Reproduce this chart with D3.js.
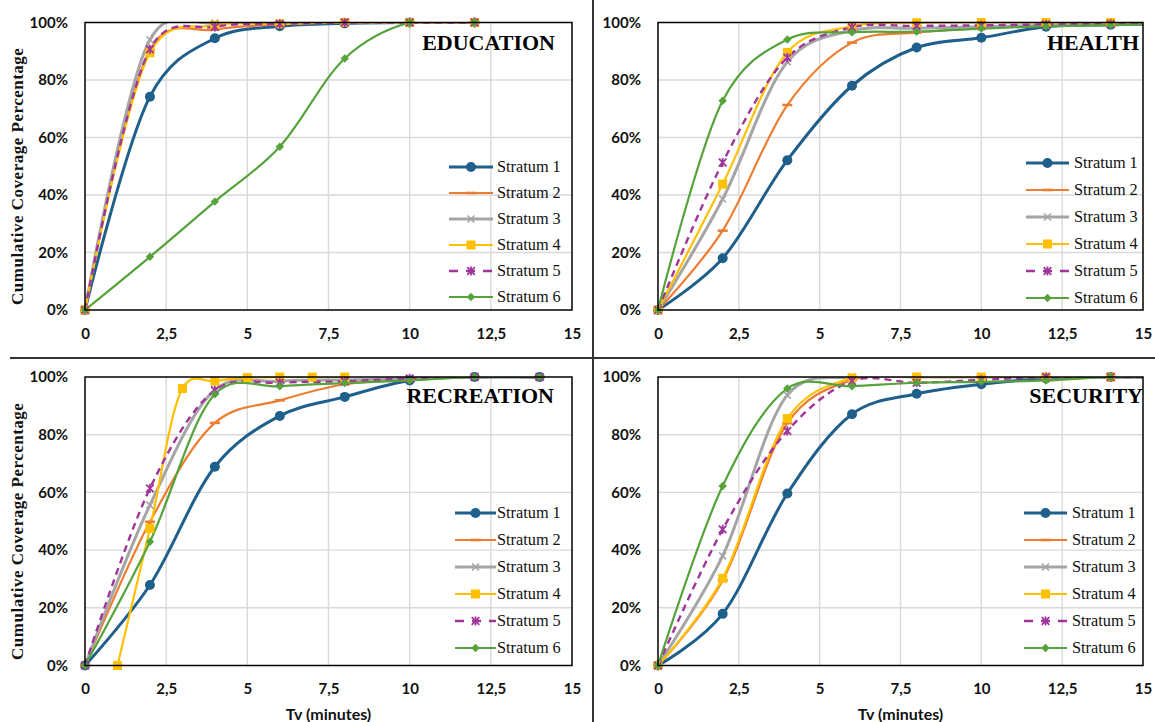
<!DOCTYPE html>
<html><head><meta charset="utf-8">
<script src="https://cdn.jsdelivr.net/npm/d3@7/dist/d3.min.js"></script>
<style>body{margin:0;background:#fff}</style>
</head><body>
<svg id="c" width="1155" height="722" xmlns="http://www.w3.org/2000/svg"></svg>
<script>
// ---------------- DATA ----------------
const strata = ["Stratum 1","Stratum 2","Stratum 3","Stratum 4","Stratum 5","Stratum 6"];
const xTicks = [0, 2.5, 5, 7.5, 10, 12.5, 15];
const yTicks = [0, 20, 40, 60, 80, 100];
const panelTitles = ["EDUCATION","HEALTH","RECREATION","SECURITY"];
const xTitle = "Tv (minutes)";
const yTitle = "Cumulative Coverage Percentage";

// Education (Tv minutes)
const eduX  = [0, 2, 4, 6, 8, 10, 12];
const eduS1 = [0, 74.2, 94.5, 98.7, 99.7, 100, 100];
const eduS2 = [0, 90.5, 97.5, 99.3, 100, 100, 100];
const eduS3 = [0, 94.0, 99.8, 99.8, 100, 100, 100];
const eduS4 = [0, 89.5, 99.0, 99.5, 100, 100, 100];
const eduS5 = [0, 90.7, 98.5, 99.5, 100, 100, 100];
const eduS6 = [0, 18.5, 37.7, 56.8, 87.5, 100, 100];

// Health
const heaX  = [0, 2, 4, 6, 8, 10, 12, 14, 16];
const heaS1 = [0, 18.0, 52.1, 78.0, 91.3, 94.7, 98.5, 99.2, 99.6];
const heaS2 = [0, 27.6, 71.3, 93.0, 96.5, 98.0, 99.0, 99.5, 99.7];
const heaS3 = [0, 38.6, 86.3, 97.2, 98.0, 98.5, 99.0, 99.5, 99.7];
const heaS4 = [0, 43.8, 89.6, 98.7, 99.9, 100, 100, 100, 100];
const heaS5 = [0, 51.3, 87.8, 98.3, 98.8, 99.0, 99.3, 99.5, 99.7];
const heaS6 = [0, 72.8, 94.1, 96.6, 96.8, 97.9, 98.7, 99.1, 99.6];

// Recreation
const recX  = [0, 2, 4, 6, 8, 10, 12, 14];
const recS1 = [0, 27.9, 68.9, 86.5, 93.1, 98.8, 100, 100];
const recS2 = [0, 49.8, 84.1, 91.9, 97.5, 99.0, 100, 100];
const recS3 = [0, 55.6, 95.5, 98.5, 99.0, 99.5, 100, 100];
const recX4 = [1, 2, 3, 4, 5, 6, 7, 8];
const recS4 = [0, 47.5, 96.0, 98.6, 99.8, 100, 100, 100];
const recS5 = [0, 61.4, 95.4, 98.0, 98.5, 99.5, 100, 100];
const recS6 = [0, 42.9, 94.0, 96.8, 97.9, 98.8, 100, 100];

// Security
const secX  = [0, 2, 4, 6, 8, 10, 12, 14, 16];
const secS1 = [0, 17.9, 59.6, 87.1, 94.2, 97.5, 99.5, 100, 100];
const secS2 = [0, 29.5, 84.0, 99.0, 100, 100, 100, 100, 100];
const secS3 = [0, 38.0, 93.7, 100, 100, 100, 100, 100, 100];
const secS4 = [0, 30.2, 85.6, 99.7, 100, 100, 100, 100, 100];
const secS5 = [0, 47.2, 81.3, 98.6, 98.0, 99.0, 100, 100, 100];
const secS6 = [0, 62.2, 96.0, 96.8, 98.0, 98.3, 98.8, 100, 100];

// ---------------- STYLE ----------------
const colors  = ["#1F5F8B","#ED7D31","#A5A5A5","#FFC000","#A0359B","#56A33C"];
const widths  = [3, 2.2, 3, 2.2, 2.4, 2.2];
const dashes  = [null, null, null, null, "7,5", null];
const markers = ["circle","dash","x","square","star","diamond"];

const panelData = [
  { xs:[eduX,eduX,eduX,eduX,eduX,eduX], ys:[eduS1,eduS2,eduS3,eduS4,eduS5,eduS6] },
  { xs:[heaX,heaX,heaX,heaX,heaX,heaX], ys:[heaS1,heaS2,heaS3,heaS4,heaS5,heaS6] },
  { xs:[recX,recX,recX,recX4,recX,recX], ys:[recS1,recS2,recS3,recS4,recS5,recS6] },
  { xs:[secX,secX,secX,secX,secX,secX], ys:[secS1,secS2,secS3,secS4,secS5,secS6] }
];

// layout per panel
const layout = [
  { l:85,  r:572,  t:22.5, b:310, titleX:555,  titleY:50,  legLine:[449,493], legText:497,  legY:167, legDy:26,   yTitle:true,  xTitle:false },
  { l:658, r:1143, t:22.5, b:310, titleX:1139, titleY:50,  legLine:[1026,1069], legText:1074, legY:163, legDy:27,   yTitle:false, xTitle:false },
  { l:85,  r:572,  t:377,  b:665.5, titleX:554, titleY:403, legLine:[455,496], legText:497, legY:513, legDy:27,   yTitle:true,  xTitle:true },
  { l:658, r:1143, t:377,  b:665.5, titleX:1143, titleY:403, legLine:[1024,1067], legText:1072, legY:513, legDy:27, yTitle:false, xTitle:true }
];

const SERIF = "'Liberation Serif', 'Times New Roman', Times, serif";
const SANS = "Lato, 'Open Sans', sans-serif";

const svg = d3.select("#c");
svg.append("rect").attr("width",1155).attr("height",722).attr("fill","#fff");

function drawMarker(g, type, cx, cy, color) {
  if (type === "circle") {
    g.append("circle").attr("cx",cx).attr("cy",cy).attr("r",5).attr("fill",color);
  } else if (type === "dash") {
    g.append("rect").attr("x",cx-5).attr("y",cy-1.3).attr("width",10).attr("height",2.6).attr("fill",color);
  } else if (type === "x") {
    const s = 3.5;
    g.append("path").attr("d",`M${cx-s},${cy-s}L${cx+s},${cy+s}M${cx-s},${cy+s}L${cx+s},${cy-s}`)
      .attr("stroke",color).attr("stroke-width",1.6).attr("fill","none");
  } else if (type === "square") {
    g.append("rect").attr("x",cx-4.5).attr("y",cy-4.5).attr("width",9).attr("height",9).attr("fill",color);
  } else if (type === "star") {
    const s = 3.8;
    g.append("path").attr("d",`M${cx-s},${cy-s}L${cx+s},${cy+s}M${cx-s},${cy+s}L${cx+s},${cy-s}M${cx},${cy-s-0.8}L${cx},${cy+s+0.8}`)
      .attr("stroke",color).attr("stroke-width",1.8).attr("fill","none");
  } else if (type === "diamond") {
    const s = 4.2;
    g.append("path").attr("d",`M${cx},${cy-s}L${cx+s},${cy}L${cx},${cy+s}L${cx-s},${cy}Z`).attr("fill",color);
  }
}

const fmtX = d => String(d).replace(".", ",");

layout.forEach((L, pi) => {
  const P = panelData[pi];
  const x = d3.scaleLinear().domain([0,15]).range([L.l, L.r]);
  const y = d3.scaleLinear().domain([0,100]).range([L.b, L.t]);
  const g = svg.append("g");

  // grid
  g.append("g").selectAll("line").data(xTicks.slice(1,-1)).join("line")
    .attr("x1",d=>x(d)).attr("x2",d=>x(d)).attr("y1",L.t).attr("y2",L.b)
    .attr("stroke","#d9d9d9").attr("stroke-width",1.4);
  g.append("g").selectAll("line").data(yTicks.slice(1,-1)).join("line")
    .attr("x1",L.l).attr("x2",L.r).attr("y1",d=>y(d)).attr("y2",d=>y(d))
    .attr("stroke","#d9d9d9").attr("stroke-width",1.4);

  // axes
  const ax = g.append("g").attr("transform",`translate(0,${L.b})`)
    .call(d3.axisBottom(x).tickValues(xTicks).tickFormat(fmtX).tickSize(0).tickPadding(18));
  const ay = g.append("g").attr("transform",`translate(${L.l},0)`)
    .call(d3.axisLeft(y).tickValues(yTicks).tickFormat(d=>d+"%").tickSize(0).tickPadding(17));
  [ax, ay].forEach(a => {
    a.select(".domain").remove();
    a.attr("font-family", SANS);
    a.selectAll("text").style("font-family", SANS)
      .attr("font-weight","bold").attr("font-size",15).attr("fill","#111");
  });

  // clip
  const cid = "clip"+pi;
  svg.append("defs").append("clipPath").attr("id",cid).append("rect")
    .attr("x",L.l).attr("y",L.t).attr("width",L.r-L.l).attr("height",L.b-L.t);

  const line = d3.line().x(d=>x(d[0])).y(d=>y(d[1])).curve(d3.curveCatmullRom.alpha(0.15));

  // series
  strata.forEach((s, si) => {
    const pts = P.xs[si].map((xv,i)=>[xv, P.ys[si][i]]);
    g.append("path").attr("d", line(pts)).attr("clip-path",`url(#${cid})`)
      .attr("fill","none").attr("stroke",colors[si]).attr("stroke-width",widths[si])
      .attr("stroke-dasharray",dashes[si]).attr("stroke-linejoin","round").attr("stroke-linecap","butt");
  });
  strata.forEach((s, si) => {
    const mg = g.append("g");
    P.xs[si].forEach((xv,i)=>{
      if (xv <= 15) drawMarker(mg, markers[si], x(xv), y(P.ys[si][i]), colors[si]);
    });
  });

  // frame
  g.append("rect").attr("x",L.l).attr("y",L.t).attr("width",L.r-L.l).attr("height",L.b-L.t)
    .attr("fill","none").attr("stroke","#000").attr("stroke-width",1.5);

  // title
  g.append("text").attr("x",L.titleX).attr("y",L.titleY).attr("text-anchor","end")
    .style("font-family",SERIF).attr("font-weight","bold")
    .attr("font-size",22).attr("fill","#000").text(panelTitles[pi]);

  // legend
  strata.forEach((s, si) => {
    const ly = L.legY + si*L.legDy;
    const lg = g.append("g");
    lg.append("line").attr("x1",L.legLine[0]).attr("x2",L.legLine[1]).attr("y1",ly).attr("y2",ly)
      .attr("stroke",colors[si]).attr("stroke-width",widths[si])
      .attr("stroke-dasharray", dashes[si] ? "9,8" : null);
    drawMarker(lg, markers[si], (L.legLine[0]+L.legLine[1])/2, ly, colors[si]);
    lg.append("text").attr("x",L.legText).attr("y",ly).attr("dy","0.33em")
      .style("font-family",SERIF).attr("font-size",16.3)
      .attr("fill","#111").text(s);
  });

  // axis titles
  if (L.yTitle) {
    const cy = (L.t + L.b)/2 + 10;
    g.append("text").attr("transform",`translate(23,${cy}) rotate(-90)`).attr("text-anchor","middle")
      .style("font-family",SERIF).attr("font-weight","bold")
      .attr("font-size",17).attr("letter-spacing",0.5).attr("fill","#111").text(yTitle);
  }
  if (L.xTitle) {
    g.append("text").attr("x",(L.l+L.r)/2).attr("y",720).attr("text-anchor","middle")
      .style("font-family",SANS).attr("font-weight","bold")
      .attr("font-size",16).attr("fill","#111").text(xTitle);
  }
});

// dividers
svg.append("line").attr("x1",10).attr("x2",1155).attr("y1",358).attr("y2",358)
  .attr("stroke","#333").attr("stroke-width",2);
svg.append("line").attr("x1",593).attr("x2",593).attr("y1",0).attr("y2",722)
  .attr("stroke","#333").attr("stroke-width",2);
</script>
</body></html>
